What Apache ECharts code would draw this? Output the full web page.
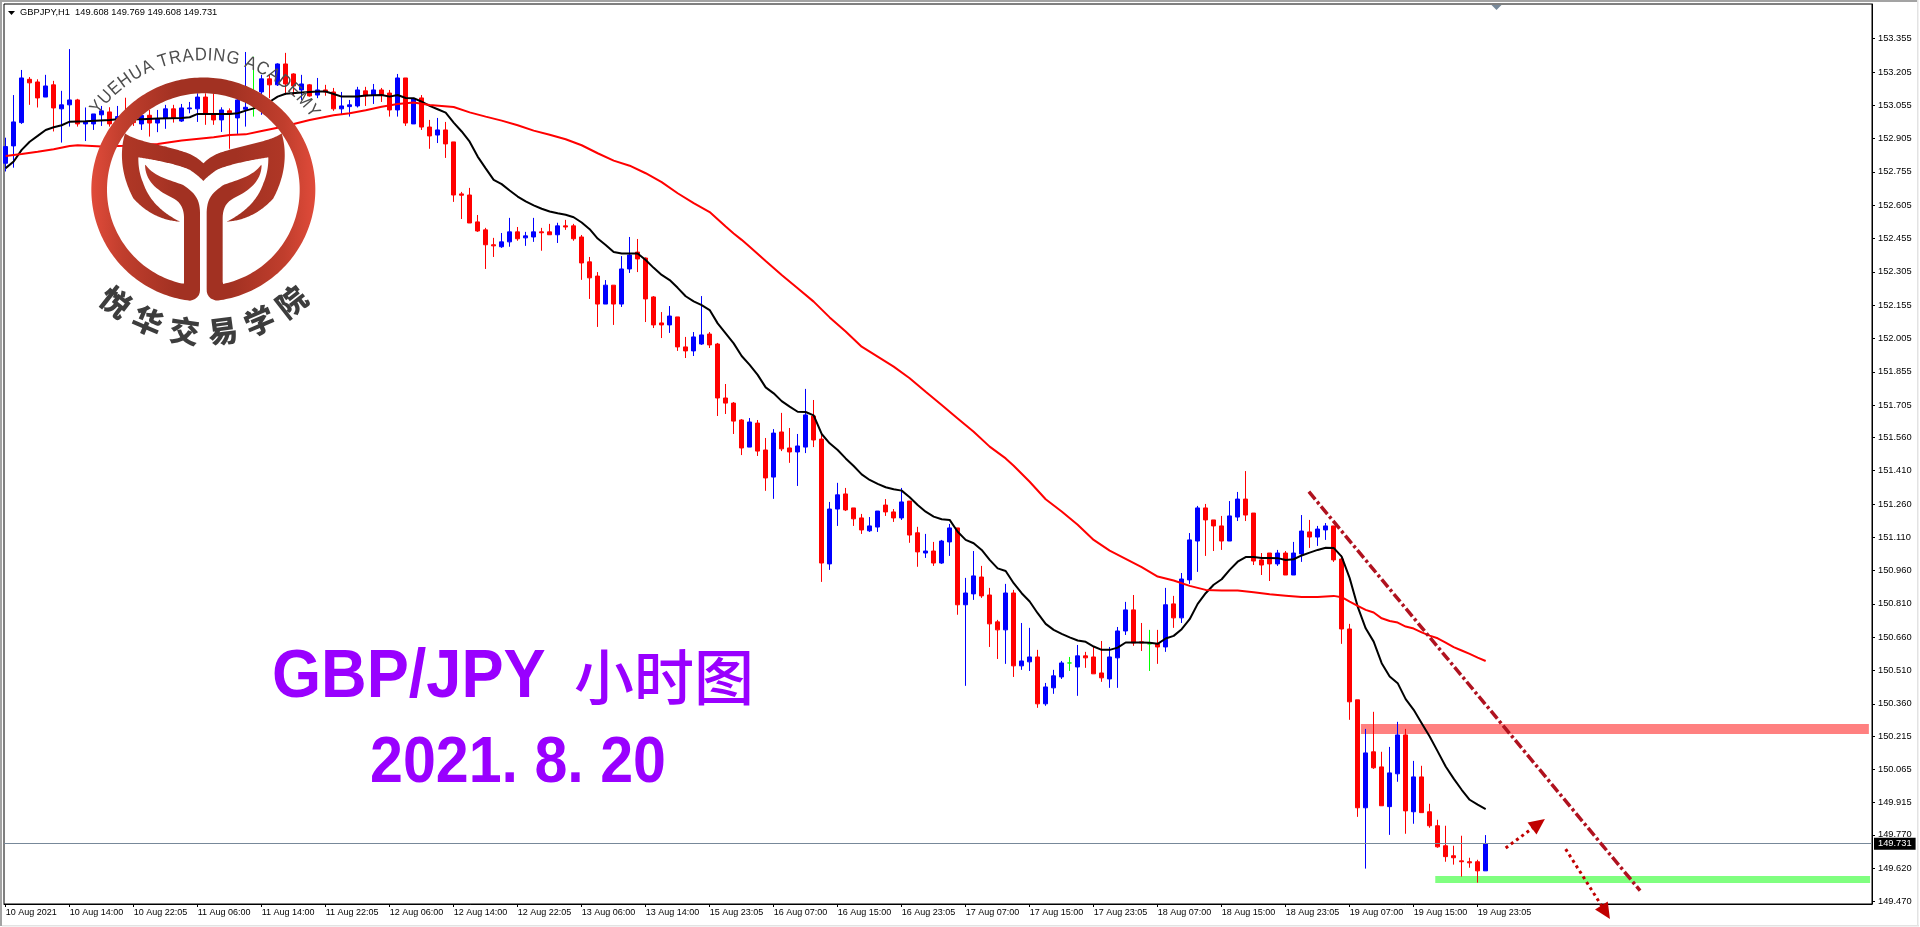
<!DOCTYPE html>
<html>
<head>
<meta charset="utf-8">
<script src="https://cdn.jsdelivr.net/npm/echarts@6/dist/echarts.min.js"></script>
<style>html,body{margin:0;padding:0;background:#fff;overflow:hidden}#c{width:1920px;height:927px}</style>
</head>
<body>
<div id="c"></div>
<script>
const headerText = 'GBPJPY,H1  149.608 149.769 149.608 149.731';
const timeLabels = ['10 Aug 2021','10 Aug 14:00','10 Aug 22:05','11 Aug 06:00','11 Aug 14:00','11 Aug 22:05','12 Aug 06:00','12 Aug 14:00','12 Aug 22:05','13 Aug 06:00','13 Aug 14:00','15 Aug 23:05','16 Aug 07:00','16 Aug 15:00','16 Aug 23:05','17 Aug 07:00','17 Aug 15:00','17 Aug 23:05','18 Aug 07:00','18 Aug 15:00','18 Aug 23:05','19 Aug 07:00','19 Aug 15:00','19 Aug 23:05'];
const barsPerLabel = 8;
const priceLabels = [153.355,153.205,153.055,152.905,152.755,152.605,152.455,152.305,152.155,152.005,151.855,151.705,151.560,151.410,151.260,151.110,150.960,150.810,150.660,150.510,150.360,150.215,150.065,149.915,149.770,149.620,149.470];
const lastPrice = 149.731;

const opens = [
152.794,152.872,152.977,153.172,153.160,153.092,153.147,153.039,153.057,153.079,
152.971,152.971,153.012,153.025,152.974,153.012,153.004,152.971,153.010,152.975,
152.998,153.039,152.984,153.039,153.039,153.092,153.012,152.989,153.030,152.998,
153.037,153.064,153.115,153.174,153.147,153.241,153.196,153.124,153.147,153.101,
153.124,153.115,153.039,153.049,153.052,153.120,153.101,153.124,153.110,153.034,
153.178,152.971,153.088,152.957,152.921,152.944,152.890,152.656,152.651,152.530,
152.494,152.427,152.418,152.440,152.485,152.458,152.462,152.485,152.485,152.472,
152.512,152.512,152.462,152.350,152.286,152.160,152.245,152.160,152.318,152.394,
152.367,152.192,152.075,152.066,152.102,151.967,151.949,151.980,152.025,151.980,
151.737,151.714,151.638,151.516,151.624,151.503,151.381,151.584,151.512,151.494,
151.516,151.656,151.552,150.990,151.237,151.305,151.242,151.197,151.139,151.156,
151.255,151.224,151.197,151.273,151.130,151.039,151.048,150.994,151.089,151.152,
150.806,150.855,150.931,150.850,150.729,150.693,150.859,150.531,150.549,150.571,
150.360,150.432,150.481,150.544,150.526,150.576,150.571,150.499,150.472,150.567,
150.688,150.783,150.639,150.630,150.630,150.616,150.810,150.747,150.918,151.093,
151.242,151.188,151.161,151.093,151.201,151.282,151.219,151.008,151.039,150.990,
151.039,150.940,151.035,151.134,151.111,151.143,151.161,151.012,150.697,150.378,
149.892,150.144,150.076,149.897,150.045,150.220,149.874,150.031,149.874,149.811,
149.721,149.676,149.653,149.649,149.649,149.608];
const closes = [
152.869,152.980,153.178,153.156,153.088,153.142,153.043,153.057,153.079,152.971,
152.980,153.016,153.030,152.971,153.004,152.971,152.977,153.009,152.975,152.994,
153.039,152.998,153.043,153.043,153.092,153.016,152.989,153.034,153.021,153.079,
153.046,153.064,153.174,153.147,153.241,153.151,153.142,153.151,153.097,153.124,
153.115,153.039,153.052,153.057,153.124,153.097,153.124,153.101,153.034,153.178,
152.975,153.084,152.957,152.917,152.944,152.881,152.651,152.650,152.525,152.489,
152.427,152.422,152.440,152.485,152.454,152.467,152.485,152.481,152.472,152.512,
152.507,152.454,152.345,152.278,152.160,152.245,152.160,152.318,152.381,152.363,
152.183,152.066,152.066,152.106,151.967,151.949,152.012,152.021,151.976,151.737,
151.714,151.633,151.512,151.629,151.498,151.377,151.579,151.508,151.494,151.521,
151.661,151.548,150.994,151.237,151.301,151.233,151.193,151.143,151.161,151.228,
151.224,151.197,151.269,151.120,151.044,151.048,150.994,151.093,151.152,150.806,
150.859,150.936,150.846,150.720,150.693,150.859,150.531,150.553,150.571,150.360,
150.436,150.486,150.544,150.544,150.576,150.567,150.495,150.477,150.571,150.688,
150.783,150.634,150.634,150.630,150.616,150.806,150.747,150.922,151.098,151.242,
151.188,151.161,151.093,151.206,151.282,151.210,151.003,150.985,150.990,151.039,
150.940,151.039,151.138,151.111,151.147,151.161,151.008,150.697,150.369,149.892,
150.139,150.072,149.901,150.049,150.220,149.878,150.031,149.870,149.811,149.716,
149.672,149.667,149.649,149.644,149.608,149.731];
const lows = [
152.757,152.774,152.971,153.057,153.045,153.092,152.937,152.887,152.959,152.959,
152.894,152.944,152.962,152.959,152.951,152.951,152.962,152.944,152.914,152.934,
152.949,152.977,152.980,153.019,152.980,152.967,152.967,152.935,152.859,152.926,
152.959,153.004,153.012,153.087,153.142,153.101,153.101,153.079,153.094,153.087,
153.098,153.030,153.012,153.004,153.045,153.052,153.061,153.070,153.004,153.004,
152.962,152.971,152.944,152.859,152.885,152.818,152.620,152.543,152.525,152.485,
152.318,152.372,152.413,152.418,152.445,152.422,152.440,152.400,152.472,152.435,
152.494,152.445,152.269,152.183,152.057,152.160,152.066,152.147,152.300,152.304,
152.079,152.052,152.007,152.030,151.949,151.917,151.926,151.976,151.962,151.656,
151.665,151.575,151.480,151.516,151.476,151.319,151.283,151.498,151.445,151.341,
151.489,151.516,150.909,150.963,151.161,151.228,151.161,151.125,151.134,151.134,
151.206,151.179,151.188,151.085,150.977,151.017,150.981,150.990,151.026,150.761,
150.441,150.828,150.837,150.616,150.562,150.540,150.481,150.513,150.508,150.342,
150.351,150.405,150.472,150.508,150.396,150.522,150.495,150.459,150.432,150.432,
150.670,150.621,150.598,150.508,150.540,150.594,150.702,150.724,150.900,150.954,
151.026,151.048,151.053,151.093,151.183,151.183,150.985,150.940,150.913,150.981,
150.940,150.940,150.999,151.062,151.071,151.098,150.999,150.630,150.288,149.851,
149.618,150.067,149.901,149.770,150.009,149.775,149.820,149.870,149.802,149.712,
149.649,149.636,149.582,149.622,149.555,149.608];
const highs = [
152.909,153.101,153.214,153.182,153.172,153.192,153.165,153.120,153.308,153.084,
153.045,153.016,153.052,153.046,153.052,153.089,153.034,153.034,153.034,153.034,
153.057,153.057,153.061,153.070,153.109,153.109,153.109,153.046,153.041,153.109,
153.295,153.274,153.192,153.192,153.244,153.291,153.199,153.192,153.151,153.178,
153.147,153.133,153.115,153.079,153.138,153.138,153.151,153.133,153.124,153.196,
153.178,153.088,153.101,152.989,152.998,152.980,152.890,152.665,152.683,152.561,
152.503,152.458,152.480,152.548,152.507,152.485,152.548,152.503,152.521,152.526,
152.539,152.521,152.471,152.372,152.304,152.268,152.245,152.376,152.462,152.453,
152.370,152.196,152.124,152.151,152.102,152.012,152.034,152.196,152.034,151.985,
151.800,151.719,151.642,151.647,151.638,151.557,151.597,151.670,151.602,151.575,
151.778,151.728,151.570,151.269,151.355,151.332,151.242,151.215,151.201,151.228,
151.282,151.237,151.332,151.273,151.157,151.125,151.089,151.098,151.170,151.152,
150.927,151.048,150.981,150.882,150.738,150.900,150.873,150.724,150.702,150.603,
150.454,150.513,150.553,150.571,150.625,150.594,150.616,150.643,150.616,150.706,
150.819,150.850,150.724,150.693,150.693,150.882,150.846,150.949,151.129,151.251,
151.260,151.188,151.206,151.273,151.314,151.408,151.219,151.039,151.039,151.053,
151.048,151.089,151.210,151.188,151.161,151.174,151.161,151.030,150.720,150.378,
150.247,150.324,150.144,150.166,150.279,150.247,150.103,150.081,149.910,149.838,
149.811,149.721,149.766,149.667,149.658,149.769];

// Fast moving average, read as [bar, price]
const blackMA = [[0,152.772],[1,152.802],[2,152.854],[3,152.891],[4,152.917],[5,152.944],[6,152.956],[7,152.965],[8,152.981],[10,152.983],[13,152.989],[14,152.992],[17,152.992],[19,152.996],[22,152.998],[23,153.001],[24,153.016],[26,153.016],[28,153.016],[29,153.019],[30,153.031],[31,153.041],[32,153.055],[33,153.071],[34,153.094],[35,153.107],[37,153.112],[39,153.117],[40,153.117],[41,153.106],[42,153.094],[44,153.094],[45,153.099],[47,153.101],[48,153.094],[49,153.101],[50,153.088],[51,153.087],[52,153.071],[53,153.052],[54,153.037],[55,153.022],[56,152.977],[57,152.937],[58,152.891],[59,152.824],[60,152.771],[61,152.719],[62,152.700],[63,152.671],[64,152.644],[65,152.622],[66,152.604],[67,152.589],[68,152.577],[69,152.569],[70,152.562],[71,152.551],[72,152.527],[73,152.497],[74,152.455],[75,152.426],[76,152.394],[77,152.388],[78,152.388],[79,152.388],[80,152.358],[81,152.323],[82,152.291],[83,152.268],[84,152.233],[85,152.195],[86,152.172],[87,152.155],[88,152.133],[89,152.073],[90,152.028],[91,151.983],[92,151.926],[93,151.886],[94,151.841],[95,151.785],[96,151.758],[97,151.723],[98,151.698],[99,151.675],[100,151.674],[101,151.659],[102,151.575],[103,151.533],[104,151.503],[105,151.465],[106,151.431],[107,151.393],[108,151.368],[109,151.350],[110,151.335],[111,151.326],[112,151.320],[113,151.290],[114,151.255],[115,151.225],[116,151.203],[117,151.191],[118,151.188],[119,151.135],[120,151.098],[121,151.083],[122,151.053],[123,151.008],[124,150.970],[125,150.958],[126,150.903],[127,150.858],[128,150.821],[129,150.768],[130,150.720],[131,150.693],[132,150.675],[133,150.659],[134,150.645],[135,150.639],[136,150.618],[137,150.603],[138,150.603],[139,150.613],[140,150.636],[141,150.636],[142,150.636],[143,150.635],[144,150.630],[145,150.654],[146,150.666],[147,150.696],[148,150.741],[149,150.810],[150,150.858],[151,150.896],[152,150.921],[153,150.963],[154,151.000],[155,151.021],[156,151.021],[157,151.017],[158,151.017],[159,151.016],[160,151.008],[161,151.011],[162,151.028],[163,151.041],[164,151.053],[165,151.063],[166,151.062],[167,151.023],[168,150.926],[169,150.798],[170,150.700],[171,150.640],[172,150.543],[173,150.483],[174,150.453],[175,150.381],[176,150.333],[177,150.273],[178,150.213],[179,150.146],[180,150.078],[181,150.023],[182,149.973],[183,149.928],[184,149.906],[185,149.886]];
// Slow moving average, read as [bar, price]
const redMA = [[0,152.827],[2,152.836],[4,152.846],[6,152.857],[8,152.872],[9,152.875],[12,152.869],[15,152.873],[19,152.881],[22,152.896],[26,152.911],[28,152.921],[30,152.924],[32,152.939],[34,152.954],[36,152.971],[38,152.989],[41,153.010],[43,153.019],[45,153.033],[47,153.048],[49,153.061],[51,153.067],[53,153.056],[56,153.047],[58,153.023],[60,153.004],[62,152.986],[64,152.965],[66,152.941],[68,152.922],[70,152.902],[72,152.875],[74,152.839],[76,152.806],[78,152.783],[80,152.749],[82,152.709],[84,152.659],[86,152.614],[88,152.574],[90,152.509],[91,152.478],[92,152.449],[93,152.418],[95,152.354],[97,152.291],[99,152.231],[101,152.171],[103,152.100],[105,152.036],[107,151.968],[109,151.923],[111,151.878],[113,151.826],[115,151.765],[117,151.705],[119,151.645],[121,151.585],[123,151.518],[125,151.465],[126,151.432],[128,151.360],[130,151.281],[132,151.226],[134,151.166],[136,151.098],[138,151.050],[140,151.013],[142,150.975],[144,150.933],[146,150.915],[148,150.891],[150,150.873],[152,150.870],[154,150.870],[156,150.862],[158,150.853],[160,150.847],[162,150.841],[164,150.841],[166,150.846],[167,150.840],[168,150.820],[169,150.801],[170,150.783],[171,150.771],[172,150.745],[173,150.733],[174,150.726],[175,150.708],[176,150.699],[177,150.682],[178,150.667],[179,150.655],[180,150.636],[181,150.615],[182,150.600],[183,150.585],[184,150.568],[185,150.553]];

// Drawn objects, [bar, price]
const resistanceZone = [[169.4,150.269],[232.9,150.224]];
const supportZone = [[178.7,149.585],[233.05,149.553]];
const trendLine = [[162.9,151.315],[204.3,149.519]];
const arrowUp = [[187.5,149.711],[191.6,149.820]];
const arrowDown = [[195,149.706],[200,149.422]];

const candles = opens.map((o,i)=>[i,o,closes[i],lows[i],highs[i]]);
const PLOT = {left:4, top:4, width:1868, height:900};
const fontTick = '9.3px "Liberation Sans", Arial, sans-serif';

// sample an SVG outline into a polygon for the graphic component
function outline(d){
  const p=document.createElementNS('http://www.w3.org/2000/svg','path'); p.setAttribute('d',d);
  const L=p.getTotalLength(), pts=[], n=700;
  for(let i=0;i<n;i++){const q=p.getPointAtLength(L*i/n); pts.push([80+q.x/3,70+q.y/3]);}
  return pts;
}
function logoElements(){
  const cx=203.6, cy=189.2, els=[];
  const grad={type:'linear',x:0,y:0,x2:1,y2:0,colorStops:[{offset:0,color:'#E04B3A'},{offset:.14,color:'#C03E2D'},{offset:.38,color:'#A23122'},{offset:.62,color:'#A23122'},{offset:.86,color:'#C03E2D'},{offset:1,color:'#E04B3A'}]};
  const gradTail={type:'linear',x:0,y:0,x2:1,y2:0,colorStops:[{offset:0,color:'#B03726'},{offset:.3,color:'#A23122'},{offset:.7,color:'#A23122'},{offset:1,color:'#B03726'}]};
  const ring='M330 692 A336 336 0 1 1 410 692 Q380 686 380 660 L380 425 C382 385 395 370 430 345 C470 330 520 320 545 282 C545 325 520 355 470 380 C445 392 430 405 428 440 L428 642 A289 289 0 1 0 312 642 L312 440 C310 405 295 392 270 380 C220 355 195 325 195 282 C220 320 270 330 310 345 C345 370 358 385 360 425 L360 660 Q360 686 330 692 Z';
  const tail='M135 190 C170 215 240 222 310 245 C335 252 355 265 370 280 C385 265 405 252 430 245 C500 222 570 215 605 190 C620 240 620 310 580 385 C540 430 490 452 440 455 C480 435 530 400 550 340 C563 310 565 285 565 262 C510 270 440 285 410 300 C395 310 380 322 370 333 C360 322 345 310 330 300 C300 285 230 270 175 262 C175 285 177 310 190 340 C210 400 260 435 300 455 C250 452 200 430 160 385 C120 310 120 240 135 190 Z';
  els.push({type:'polygon',z:100,shape:{points:outline(ring)},style:{fill:grad}});
  els.push({type:'polygon',z:100,shape:{points:outline(tail)},style:{fill:gradTail}});
  // arched English name
  const name='YUEHUA TRADING ACADEMY', font='18px "Liberation Sans", Arial, sans-serif';
  const ctx=document.createElement('canvas').getContext('2d'); ctx.font=font;
  const widths=[...name].map(c=>ctx.measureText(c).width), total=widths.reduce((a,b)=>a+b,0);
  const a0=-55*Math.PI/180, a1=57*Math.PI/180; let run=0;
  [...name].forEach((c,k)=>{
    const a=a0+(a1-a0)*(run+widths[k]/2)/total; run+=widths[k];
    const R=134;
    els.push({type:'text',z:101,x:cx+R*Math.sin(a),y:cy-R*Math.cos(a),rotation:-a,scaleX:.92,
      style:{text:c,font,fill:'#4d4d4d',textAlign:'center',textVerticalAlign:'middle'}});
  });
  // arched Chinese name
  const cn='悦华交易学院', angles=[-38,-23,-7.7,7.7,23,38];
  [...cn].forEach((c,k)=>{
    const a=angles[k]*Math.PI/180, R=143;
    els.push({type:'text',z:101,x:cx+R*Math.sin(a),y:cy+R*Math.cos(a),rotation:a,
      style:{text:c,font:'900 30px "Noto Sans CJK SC", sans-serif',fill:'#3d3d3d',textAlign:'center',textVerticalAlign:'middle'}});
  });
  return els;
}

const graphicEls = [
  {type:'rect',z:120,shape:{x:0,y:0,width:1917,height:2},style:{fill:'#a3a3a3'}},
  {type:'rect',z:120,shape:{x:0,y:0,width:2,height:926},style:{fill:'#a3a3a3'}},
  {type:'rect',z:120,shape:{x:1917,y:0,width:1.5,height:926},style:{fill:'#e3e3e3'}},
  {type:'rect',z:120,shape:{x:2,y:925,width:1917,height:1.5},style:{fill:'#e3e3e3'}},
  {type:'polygon',z:120,shape:{points:[[8,11],[15,11],[11.5,15]]},style:{fill:'#000'}},
  {type:'polygon',z:120,shape:{points:[[1491.5,5],[1501.5,5],[1496.5,10]]},style:{fill:'#778899'}},
  {type:'text',z:110,x:20,y:12.5,style:{text:headerText,font:fontTick,fill:'#000',textVerticalAlign:'middle'}},
  {type:'text',z:110,x:272,y:678,scaleX:.915,style:{text:'GBP/JPY',font:'bold 69px "Liberation Sans", Arial, sans-serif',fill:'#9900FF',textVerticalAlign:'middle'}},
  {type:'text',z:110,x:574,y:677,style:{text:'小时图',font:'500 60px "Noto Sans CJK SC", sans-serif',fill:'#9900FF',textVerticalAlign:'middle'}},
  {type:'text',z:110,x:370,y:764,scaleX:.91,style:{text:'2021. 8. 20',font:'bold 65px "Liberation Sans", Arial, sans-serif',fill:'#9900FF',textVerticalAlign:'middle'}}
].concat(logoElements());

const pair = (a,extra)=>[{coord:a[0],symbol:'none'},Object.assign({coord:a[1]},extra||{symbol:'none'})];
const drawLine = (a,extra,lineStyle)=>{const d=pair(a,extra);d[0].lineStyle=lineStyle;d[1].lineStyle=lineStyle;return d;};

const option = {
  animation:false,
  backgroundColor:'#fff',
  graphic:{elements:graphicEls},
  grid:{left:PLOT.left,top:PLOT.top,width:PLOT.width,height:PLOT.height,show:true,borderColor:'#000',borderWidth:1,backgroundColor:'#fff'},
  xAxis:{type:'value',min:-0.209,max:233.291,splitLine:{show:false},
    axisLine:{show:true,onZero:false,lineStyle:{color:'#000',width:1}},
    axisTick:{show:true,length:3,inside:false,lineStyle:{color:'#000'},customValues:timeLabels.map((_,i)=>i*barsPerLabel)},
    axisLabel:{show:true,customValues:timeLabels.map((_,i)=>i*barsPerLabel),align:'left',margin:4,color:'#000',
      fontFamily:'"Liberation Sans", Arial, sans-serif',fontSize:9,showMinLabel:true,showMaxLabel:true,
      hideOverlap:false,formatter:v=>timeLabels[Math.round(v/barsPerLabel)]}},
  yAxis:{type:'value',position:'right',min:149.4587,max:153.511,splitLine:{show:false},
    axisLine:{show:true,onZero:false,lineStyle:{color:'#000',width:1}},
    axisTick:{show:true,length:3,inside:false,lineStyle:{color:'#000'},customValues:priceLabels},
    axisLabel:{show:true,customValues:priceLabels,margin:6,color:'#000',
      fontFamily:'"Liberation Sans", Arial, sans-serif',fontSize:9.3,hideOverlap:false,formatter:v=>v.toFixed(3)}},
  series:[
    {type:'line',name:'zones',z:1,data:[],showSymbol:false,silent:true,
      markArea:{silent:true,data:[
        [{coord:resistanceZone[0],itemStyle:{color:'#FF8080',opacity:1}},{coord:resistanceZone[1]}],
        [{coord:supportZone[0],itemStyle:{color:'#80FF80',opacity:1}},{coord:supportZone[1]}]
      ]}},
    {type:'line',name:'bid',z:2,data:[],showSymbol:false,silent:true,
      markLine:{silent:true,symbol:'none',animation:false,lineStyle:{color:'#778899',width:1,type:'solid'},
        label:{show:true,position:'end',distance:2,formatter:()=>lastPrice.toFixed(3),color:'#fff',backgroundColor:'#000',
          padding:[2,4,1,4],fontFamily:'"Liberation Sans", Arial, sans-serif',fontSize:9.3},
        data:[{yAxis:lastPrice}]}},
    {type:'candlestick',name:'GBPJPY',z:3,barWidth:5,data:candles,clip:true,silent:true,
      itemStyle:{color:'#0000FF',color0:'#FF0000',borderColor:'#0000FF',borderColor0:'#FF0000',borderColorDoji:'#00FF00',borderWidth:1}},
    {type:'line',name:'MA fast',z:4,data:blackMA,showSymbol:false,silent:true,lineStyle:{color:'#000',width:2}},
    {type:'line',name:'MA slow',z:4,data:redMA,showSymbol:false,silent:true,lineStyle:{color:'#FF0000',width:2}},
    {type:'line',name:'drawings',z:5,data:[],showSymbol:false,silent:true,clip:false,
      markLine:{silent:true,animation:false,symbol:'none',label:{show:false},data:[
        drawLine(trendLine,null,{color:'#B0121F',width:3.5,type:[10,3,3,3]}),
        drawLine(arrowUp,{symbol:'triangle',symbolSize:[15,16]},{color:'#C00000',width:3,type:[3,3.5]})
      ]}},
    {type:'line',name:'arrow down',z:5,silent:true,clip:false,showSymbol:true,showAllSymbol:true,
      itemStyle:{color:'#C00000'},lineStyle:{color:'#C00000',width:3,type:[3,3.5]},
      data:[{value:arrowDown[0],symbol:'none'},{value:arrowDown[1],symbol:'triangle',symbolSize:[15,16],symbolRotate:-147.7}]}
  ]
};
const chart = echarts.init(document.getElementById('c'),null,{renderer:'canvas',width:1920,height:927});
chart.setOption(option);
</script>
</body>
</html>
